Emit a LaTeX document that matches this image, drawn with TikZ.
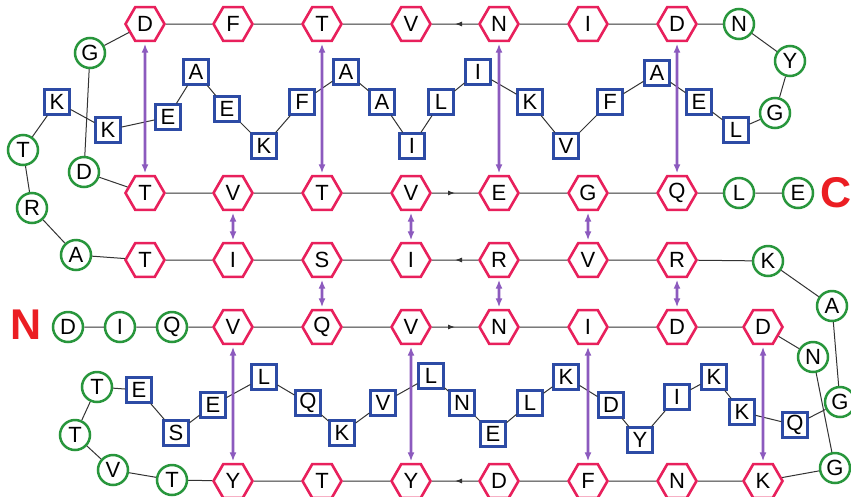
\documentclass[tikz,border=0pt]{standalone}
\usepackage{fontspec}
\setmainfont{Liberation Sans}
\usetikzlibrary{arrows.meta,shapes.geometric,decorations.markings}
\definecolor{hexred}{RGB}{232,32,92}
\definecolor{loopgreen}{RGB}{40,150,60}
\definecolor{sqblue}{RGB}{45,75,165}
\definecolor{hbpurple}{RGB}{140,90,190}
\definecolor{termred}{RGB}{235,30,35}
\newcommand{\resfont}{\fontsize{22}{22}\selectfont}
\tikzset{
  hexres/.style={regular polygon, regular polygon sides=6, draw=hexred, fill=white, line width=2.6pt, minimum size=39pt, inner sep=0pt, font=\resfont},
  loopres/.style={circle, draw=loopgreen, fill=white, line width=2.5pt, minimum size=30pt, inner sep=0pt, font=\resfont},
  strandres/.style={rectangle, draw=sqblue, fill=white, line width=2.2pt, minimum size=25pt, inner sep=0pt, font=\resfont},
  link/.style={draw=black!80, line width=1pt},
  chainarrow/.style={link, postaction={decorate}, decoration={markings, mark=at position 0.5 with {\arrow{Latex[length=7pt,width=5pt]}}}},
  hbond/.style={{Latex[length=9pt,width=7pt]}-{Latex[length=9pt,width=7pt]}, draw=hbpurple, line width=2.6pt, shorten <=1.5pt, shorten >=1.5pt},
  termlabel/.style={text=termred, font=\fontsize{43}{43}\selectfont\bfseries, inner sep=0pt}
}

\begin{document}
\begin{tikzpicture}[x=1pt, y=-1pt]
\path[use as bounding box, fill=white] (0,0) rectangle (851,496);

% hexagon rows
\node[hexres] (a1) at (145,24) {D};
\node[hexres] (a2) at (233,24) {F};
\node[hexres] (a3) at (322,24) {T};
\node[hexres] (a4) at (411,24) {V};
\node[hexres] (a5) at (499,24) {N};
\node[hexres] (a6) at (588,24) {I};
\node[hexres] (a7) at (677,24) {D};

\node[hexres] (b1) at (145,193) {T};
\node[hexres] (b2) at (233,193) {V};
\node[hexres] (b3) at (322,193) {T};
\node[hexres] (b4) at (411,193) {V};
\node[hexres] (b5) at (499,193) {E};
\node[hexres] (b6) at (588,193) {G};
\node[hexres] (b7) at (677,193) {Q};

\node[hexres] (c1) at (145,260) {T};
\node[hexres] (c2) at (233,260) {I};
\node[hexres] (c3) at (322,260) {S};
\node[hexres] (c4) at (411,260) {I};
\node[hexres] (c5) at (499,260) {R};
\node[hexres] (c6) at (588,260) {V};
\node[hexres] (c7) at (677,260) {R};

\node[hexres] (d1) at (233,327) {V};
\node[hexres] (d2) at (322,327) {Q};
\node[hexres] (d3) at (411,327) {V};
\node[hexres] (d4) at (499,327) {N};
\node[hexres] (d5) at (588,327) {I};
\node[hexres] (d6) at (677,327) {D};
\node[hexres] (d7) at (763,327) {D};

\node[hexres] (e1) at (233,481) {Y};
\node[hexres] (e2) at (322,481) {T};
\node[hexres] (e3) at (411,481) {Y};
\node[hexres] (e4) at (499,481) {D};
\node[hexres] (e5) at (588,481) {F};
\node[hexres] (e6) at (677,481) {N};
\node[hexres] (e7) at (763,481) {K};

% loop circles
\node[loopres] (lr1) at (739,24) {N};
\node[loopres] (lr2) at (790,61) {Y};
\node[loopres] (lr3) at (775,113) {G};
\node[loopres] (lg) at (90,53) {G};
\node[loopres] (ld) at (84,172) {D};
\node[loopres] (ll1) at (23,150) {T};
\node[loopres] (ll2) at (32,208) {R};
\node[loopres] (ll3) at (76,255) {A};
\node[loopres] (ce1) at (739,193) {L};
\node[loopres] (ce2) at (798,193) {E};
\node[loopres] (rk) at (768,261) {K};
\node[loopres] (ra) at (832,306) {A};
\node[loopres] (rg) at (840,402) {G};
\node[loopres] (rn) at (813,357) {N};
\node[loopres] (rg2) at (835,468) {G};
\node[loopres] (nd) at (68,327) {D};
\node[loopres] (ni) at (120,327) {I};
\node[loopres] (nq) at (172,327) {Q};
\node[loopres] (bl1) at (97,387) {T};
\node[loopres] (bl2) at (75,435) {T};
\node[loopres] (bl3) at (113,470) {V};
\node[loopres] (bl4) at (172,480) {T};

% upper strand squares
\node[strandres] (ta1) at (736,130) {L};
\node[strandres] (ta2) at (699,102) {E};
\node[strandres] (ta3) at (657,73) {A};
\node[strandres] (ta4) at (610,102) {F};
\node[strandres] (ta5) at (566,146) {V};
\node[strandres] (ta6) at (530,102) {K};
\node[strandres] (ta7) at (478,72) {I};
\node[strandres] (ta8) at (441,102) {L};
\node[strandres] (ta9) at (412,146) {I};
\node[strandres] (ta10) at (382,102) {A};
\node[strandres] (ta11) at (346,72) {A};
\node[strandres] (ta12) at (302,102) {F};
\node[strandres] (ta13) at (264,146) {K};
\node[strandres] (ta14) at (227,109) {E};
\node[strandres] (ta15) at (196,72) {A};
\node[strandres] (ta16) at (168,117) {E};
\node[strandres] (ta17) at (108,130) {K};
\node[strandres] (ta18) at (57,102) {K};

% lower strand squares
\node[strandres] (bs1) at (795,425) {Q};
\node[strandres] (bs2) at (742,412) {K};
\node[strandres] (bs3) at (714,377) {K};
\node[strandres] (bs4) at (677,397) {I};
\node[strandres] (bs5) at (640,440) {Y};
\node[strandres] (bs6) at (611,405) {D};
\node[strandres] (bs7) at (566,377) {K};
\node[strandres] (bs8) at (530,403) {L};
\node[strandres] (bs9) at (493,434) {E};
\node[strandres] (bs10) at (462,403) {N};
\node[strandres] (bs11) at (431,376) {L};
\node[strandres] (bs12) at (383,403) {V};
\node[strandres] (bs13) at (342,433) {K};
\node[strandres] (bs14) at (308,403) {Q};
\node[strandres] (bs15) at (264,377) {L};
\node[strandres] (bs16) at (213,405) {E};
\node[strandres] (bs17) at (176,433) {S};
\node[strandres] (bs18) at (139,390) {E};

% termini
\node[termlabel] (nterm) at (26,325) {N};
\node[termlabel, anchor=west] (cterm) at (820,193) {C};

% backbone
\draw[link] (a1) -- (a2) -- (a3) -- (a4);
\draw[chainarrow] (a5) -- (a4);
\draw[link] (a5) -- (a6) -- (a7) -- (lr1) -- (lr2) -- (lr3) -- (ta1) -- (ta2) -- (ta3) -- (ta4) -- (ta5) -- (ta6) -- (ta7) -- (ta8) -- (ta9) -- (ta10) -- (ta11) -- (ta12) -- (ta13) -- (ta14) -- (ta15) -- (ta16) -- (ta17) -- (ta18) -- (ll1) -- (ll2) -- (ll3) -- (c1) -- (c2) -- (c3) -- (c4);
\draw[chainarrow] (c5) -- (c4);
\draw[link] (c5) -- (c6) -- (c7) -- (rk) -- (ra) -- (rg) -- (bs1) -- (bs2) -- (bs3) -- (bs4) -- (bs5) -- (bs6) -- (bs7) -- (bs8) -- (bs9) -- (bs10) -- (bs11) -- (bs12) -- (bs13) -- (bs14) -- (bs15) -- (bs16) -- (bs17) -- (bs18) -- (bl1) -- (bl2) -- (bl3) -- (bl4) -- (e1) -- (e2) -- (e3);
\draw[chainarrow] (e4) -- (e3);
\draw[link] (e4) -- (e5) -- (e6) -- (e7) -- (rg2) -- (rn) -- (d7) -- (d6) -- (d5) -- (d4);
\draw[chainarrow] (d3) -- (d4);
\draw[link] (d3) -- (d2) -- (d1) -- (nq) -- (ni) -- (nd);
\draw[link] (a1) -- (lg) -- (ld) -- (b1) -- (b2) -- (b3) -- (b4);
\draw[chainarrow] (b4) -- (b5);
\draw[link] (b5) -- (b6) -- (b7) -- (ce1) -- (ce2);

% hydrogen bonds
\draw[hbond] (a1) -- (b1);
\draw[hbond] (a3) -- (b3);
\draw[hbond] (a5) -- (b5);
\draw[hbond] (a7) -- (b7);
\draw[hbond] (b2) -- (c2);
\draw[hbond] (b4) -- (c4);
\draw[hbond] (b6) -- (c6);
\draw[hbond] (c3) -- (d2);
\draw[hbond] (c5) -- (d4);
\draw[hbond] (c7) -- (d6);
\draw[hbond] (d1) -- (e1);
\draw[hbond] (d3) -- (e3);
\draw[hbond] (d5) -- (e5);
\draw[hbond] (d7) -- (e7);
\end{tikzpicture}
\end{document}
